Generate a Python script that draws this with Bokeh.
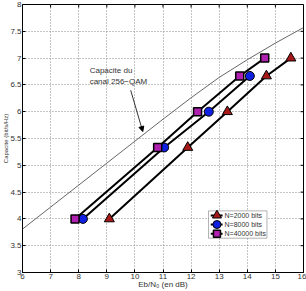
from bokeh.plotting import figure
from bokeh.models import (Range1d, Label, Arrow, NormalHead, FixedTicker, BoxAnnotation)
from bokeh.embed import file_html
from bokeh.resources import INLINE

# Data
cap_x = [6, 7, 8, 9, 10, 11, 12, 13, 14, 15, 16]
cap_y = [3.81, 4.22, 4.63, 5.04, 5.45, 5.86, 6.26, 6.64, 6.97, 7.28, 7.57]

n2000_x = [9.09, 11.88, 13.29, 14.68, 15.55]
n2000_y = [4.0, 5.333, 6.0, 6.667, 7.0]

n8000_x = [8.15, 11.04, 12.63, 14.09]
n8000_y = [4.0, 5.333, 6.0, 6.667]

n40000_x = [7.87, 10.81, 12.23, 13.73, 14.62]
n40000_y = [4.0, 5.333, 6.0, 6.667, 7.0]

series_labels = ["N=2000 bits", "N=8000 bits", "N=40000 bits"]

x_ticks = [6, 7, 8, 9, 10, 11, 12, 13, 14, 15, 16]
y_ticks = [3, 3.5, 4, 4.5, 5, 5.5, 6, 6.5, 7, 7.5, 8]

FONT = "Liberation Sans"
TXT = "#333333"
X0, X1, Y0, Y1 = 6, 16, 3, 8

p = figure(width=306, height=291, output_backend="svg", toolbar_location=None,
           x_range=Range1d(X0, X1), y_range=Range1d(Y0, Y1),
           min_border_left=0, min_border_right=3, min_border_top=4, min_border_bottom=0,
           background_fill_color="white", border_fill_color="white")
p.outline_line_color = "black"
p.outline_line_width = 1

for ax in [p.xaxis[0], p.yaxis[0]]:
    ax.major_tick_in = 3
    ax.major_tick_out = 0
    ax.minor_tick_in = 0
    ax.minor_tick_out = 0
    ax.axis_line_color = "black"
    ax.major_tick_line_color = "black"
    ax.major_label_text_font = FONT
    ax.major_label_text_font_size = "8px"
    ax.major_label_text_color = TXT
    ax.major_label_standoff = 1
    ax.axis_label_text_font = FONT
    ax.axis_label_text_font_style = "normal"
    ax.axis_label_text_color = TXT
    ax.axis_label_standoff = -2
p.xaxis[0].ticker = FixedTicker(ticks=x_ticks)
p.yaxis[0].ticker = FixedTicker(ticks=y_ticks)
p.yaxis[0].major_label_overrides = {3: "3", 4: "4", 5: "5", 6: "6", 7: "7", 8: "8"}
p.xaxis[0].axis_label = "Eb/N\u2080 (en dB)"
p.xaxis[0].axis_label_text_font_size = "8px"
p.yaxis[0].axis_label = "Capacite (bit/s/Hz)"
p.yaxis[0].axis_label_text_font_size = "6px"

p.xgrid.ticker = FixedTicker(ticks=x_ticks)
p.ygrid.ticker = FixedTicker(ticks=y_ticks)
for g in [p.xgrid[0], p.ygrid[0]]:
    g.grid_line_color = "#8a8a8a"
    g.grid_line_dash = "1 2"
    g.grid_line_width = 1

# inward ticks on the top and right edges of the box (MATLAB style)
tx = (X1 - X0) / 285 * 3
ty = (Y1 - Y0) / 270 * 3
p.segment(x0=x_ticks, y0=[Y1] * len(x_ticks), x1=x_ticks, y1=[Y1 - ty] * len(x_ticks),
          line_color="black", line_width=1)
p.segment(x0=[X1] * len(y_ticks), y0=y_ticks, x1=[X1 - tx] * len(y_ticks), y1=y_ticks,
          line_color="black", line_width=1)

# capacity curve
p.line(cap_x, cap_y, line_color="#666666", line_width=1)

styles = [
    dict(marker="triangle", size=10, fill_color="#a81818", line_color="black", line_width=1),
    dict(marker="circle", size=9, fill_color="#1020e0", line_color="black", line_width=1),
    dict(marker="square", size=8, fill_color="#b020b0", line_color="black", line_width=1.5),
]
for (xs, ys), st in zip([(n2000_x, n2000_y), (n8000_x, n8000_y), (n40000_x, n40000_y)], styles):
    p.line(xs, ys, line_color="black", line_width=2)
    p.scatter(xs, ys, **st)

# legend box (drawn by hand so the markers keep their plot size)
lg_left, lg_right, lg_top, lg_bottom = 12.62, 14.70, 4.15, 3.64
p.add_layout(BoxAnnotation(left=lg_left, right=lg_right, top=lg_top, bottom=lg_bottom,
                           fill_color="white", fill_alpha=1, line_color="black",
                           line_width=1, level="underlay"))
row_h = (lg_top - lg_bottom) / 3
for i, (lab_txt, st) in enumerate(zip(series_labels, styles)):
    yc = lg_top - row_h * (i + 0.5)
    p.segment(x0=[12.70], y0=[yc], x1=[13.12], y1=[yc], line_color="black", line_width=2)
    sst = dict(st)
    sst["size"] = st["size"] - 1
    p.scatter([12.92], [yc], **sst)
    p.add_layout(Label(x=13.19, y=yc, text=lab_txt, text_font=FONT, text_font_size="7px",
                       text_color=TXT, text_baseline="middle"))

# annotation
p.add_layout(Label(x=8.39, y=6.86, text="Capacite du", text_font=FONT,
                   text_font_size="8px", text_color=TXT, text_baseline="top"))
p.add_layout(Label(x=8.39, y=6.65, text="canal 256\u2212QAM", text_font=FONT,
                   text_font_size="8px", text_color=TXT, text_baseline="top"))
p.add_layout(Arrow(end=NormalHead(size=5, fill_color="black", line_color="black"),
                   x_start=9.85, y_start=6.40, x_end=10.28, y_end=5.63,
                   line_color="black", line_width=0.8))

open("out.html", "w").write(file_html(p, INLINE))
